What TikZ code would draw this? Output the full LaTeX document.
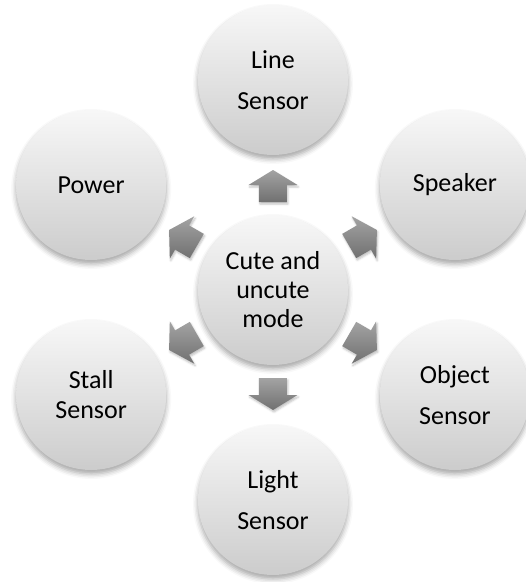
\documentclass[tikz,border=0pt]{standalone}
\usepackage{fontspec}
\setmainfont{Carlito}
\usetikzlibrary{calc,shadows.blur}

\tikzset{
  bubble/.style={circle, minimum size=150pt, inner sep=0pt, align=center,
    top color=black!3, bottom color=black!20, draw=none,
    blur shadow={shadow xshift=0pt, shadow yshift=-4pt, shadow blur radius=5pt, shadow opacity=35},
    font=\fontsize{26}{30}\selectfont},
  tall/.style={font=\fontsize{26}{41}\selectfont},
  pointer/.style={top color=black!36, bottom color=black!56, draw=none,
    blur shadow={shadow xshift=1pt, shadow yshift=-2pt, shadow blur radius=2pt, shadow opacity=25}}
}

\begin{document}
\begin{tikzpicture}
    \useasboundingbox (-273pt,-292pt) rectangle (253pt,290pt);

    \node[bubble, font=\fontsize{26}{29}\selectfont] (hub) at (0,0) {Cute and\\uncute\\mode};
    \node[bubble, tall] (line) at (90:210pt) {Line\\Sensor};
    \node[bubble] (speaker) at (30:210pt) {Speaker};
    \node[bubble, tall] (object) at (-30:210pt) {Object\\Sensor};
    \node[bubble, tall] (light) at (-90:210pt) {Light\\Sensor};
    \node[bubble] (stall) at (-150:210pt) {Stall\\Sensor};
    \node[bubble] (power) at (150:210pt) {Power};

    % block arrows pointing out of the hub
    \foreach \a in {90,30,-30,-90,-150,150}
        \path[pointer] ($(hub)+(\a:88pt)+(\a-90:14pt)$) -- ($(hub)+(\a:105pt)+(\a-90:14pt)$)
            -- ($(hub)+(\a:105pt)+(\a-90:24.5pt)$) -- ($(hub)+(\a:120pt)$)
            -- ($(hub)+(\a:105pt)+(\a+90:24.5pt)$) -- ($(hub)+(\a:105pt)+(\a+90:14pt)$)
            -- ($(hub)+(\a:88pt)+(\a+90:14pt)$) -- cycle;
\end{tikzpicture}
\end{document}
